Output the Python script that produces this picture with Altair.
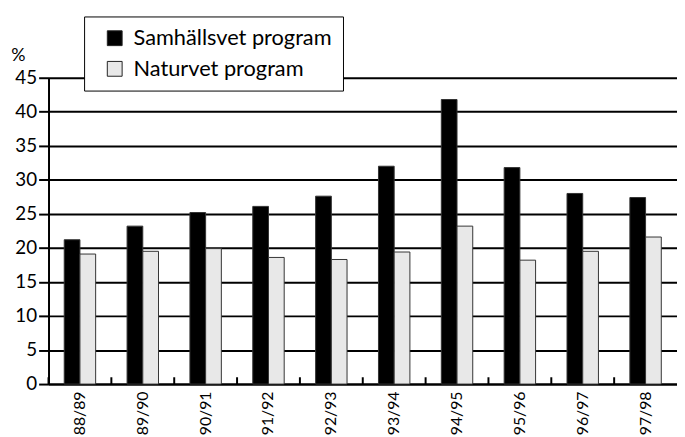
import altair as alt
import pandas as pd

years = ["88/89", "89/90", "90/91", "91/92", "92/93", "93/94", "94/95", "95/96", "96/97", "97/98"]
samhall = [21.2, 23.2, 25.2, 26.1, 27.6, 32.0, 41.8, 31.8, 28.0, 27.4]
naturvet = [19.1, 19.5, 19.9, 18.6, 18.3, 19.4, 23.2, 18.2, 19.5, 21.6]
series = ["Samhällsvet program", "Naturvet program"]
colors = ["#000000", "#e8e8e8"]
y_ticks = [0, 5, 10, 15, 20, 25, 30, 35, 40, 45]

rows = []
for i, yr in enumerate(years):
    rows.append({"year": yr, "series": series[0], "value": samhall[i]})
    rows.append({"year": yr, "series": series[1], "value": naturvet[i]})
df = pd.DataFrame(rows)
tick_df = pd.DataFrame({"year": years})

FONT = "Lato"

x_axis = alt.Axis(title=None, labelAngle=-90, ticks=False, labelFontSize=16,
                  labelPadding=7, domainWidth=2, domainColor="black",
                  labelColor="black", labelFont=FONT)
y_axis = alt.Axis(values=y_ticks, title="%", titleAngle=0, titleX=-31, titleY=-22,
                  titleAlign="center", titleBaseline="middle", titleFontSize=18,
                  titleFontWeight="normal", titleFont=FONT, titleColor="black",
                  labelFontSize=19, labelFont=FONT, labelColor="black", labelPadding=2,
                  tickSize=10, tickWidth=2, tickColor="black",
                  domainWidth=2, domainColor="black",
                  grid=True, gridColor="black", gridWidth=2)
x_scale = alt.Scale(paddingInner=0, paddingOuter=0)
y_scale = alt.Scale(domain=[0, 45])

bars = alt.Chart(df).mark_bar(stroke="#333333", strokeWidth=1).encode(
    x=alt.X("year:N", sort=years, scale=x_scale, axis=x_axis),
    xOffset=alt.XOffset("series:N", sort=series,
                        scale=alt.Scale(domain=series, paddingInner=0, paddingOuter=1)),
    y=alt.Y("value:Q", scale=y_scale, axis=y_axis, title="%"),
    color=alt.Color("series:N", scale=alt.Scale(domain=series, range=colors),
                    legend=alt.Legend(title=None, orient="none", legendX=36, legendY=-62,
                                      fillColor="white", strokeColor="black", padding=11,
                                      labelFontSize=22, labelFont=FONT, labelColor="black",
                                      labelLimit=0, symbolOffset=9,
                                      symbolType="square", symbolSize=225,
                                      symbolStrokeColor="#222222", symbolStrokeWidth=1,
                                      labelOffset=8, rowPadding=9)),
)

ticks = alt.Chart(tick_df).mark_rule(color="black", strokeWidth=2).encode(
    x=alt.X("year:N", sort=years, bandPosition=0, scale=x_scale, axis=x_axis),
    y=alt.YDatum(0, axis=y_axis, scale=y_scale, title="%"),
    y2=alt.datum(1),
)

chart = alt.layer(bars, ticks).properties(
    width=636, height=310,
    autosize=alt.AutoSizeParams(type="none"),
    padding={"left": 41, "top": 68, "right": 0, "bottom": 51},
).configure_view(stroke=None)

chart.save("out.html", embed_options={"renderer": "svg", "actions": False})
